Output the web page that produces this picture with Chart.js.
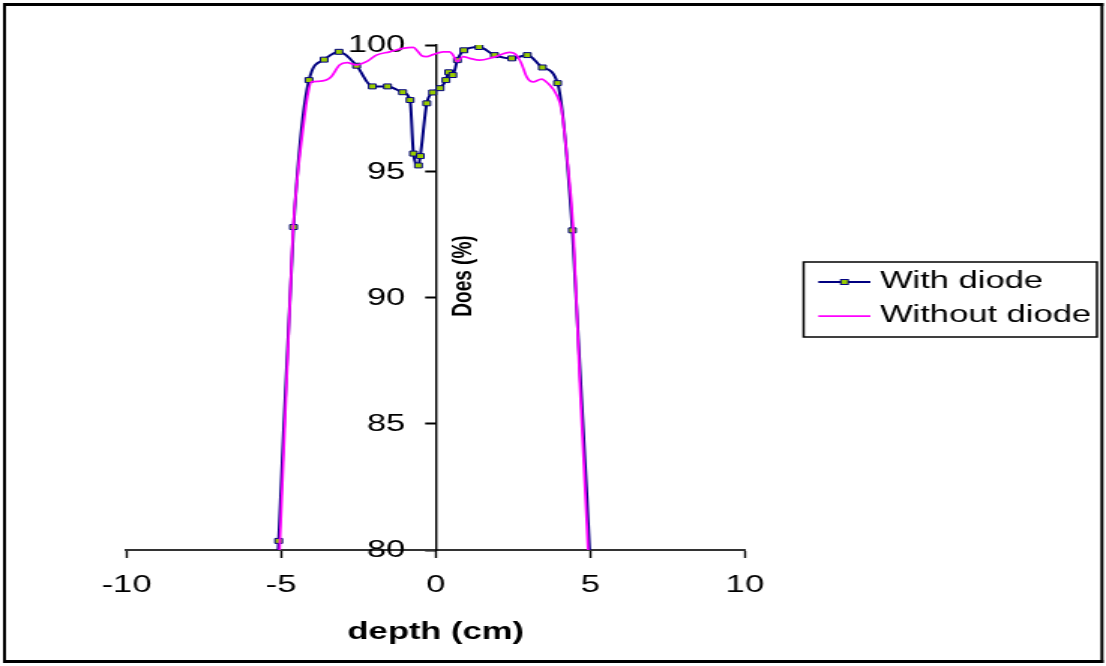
<!DOCTYPE html>
<html>
<head>
<meta charset="utf-8">
<script src="https://cdn.jsdelivr.net/npm/chart.js@4.4.1/dist/chart.umd.min.js"></script>
<style>
  html, body { margin: 0; padding: 0; background: #ffffff; }
</style>
</head>
<body>
<!-- the drawing buffer is narrower than the page and is widened by CSS -->
<canvas id="chart" width="737" height="666" style="display:block;width:1106px;height:666px;"></canvas>
<script>
// Dose profile across the field, measured with and without the diode in place
const depthWithDiode = [-5.15, -5.08, -4.60, -4.10, -3.61, -3.13, -2.56, -2.05, -1.56, -1.07,
  -0.83, -0.72, -0.56, -0.50, -0.29, -0.10, 0.14, 0.33, 0.42, 0.55,
  0.70, 0.91, 1.40, 1.90, 2.46, 2.96, 3.45, 3.94, 4.42, 5.10];
const doseWithDiode = [78.6, 80.36, 92.79, 98.61, 99.42, 99.73, 99.18, 98.36, 98.36, 98.13,
  97.82, 95.70, 95.23, 95.60, 97.69, 98.12, 98.29, 98.61, 98.92, 98.81,
  99.40, 99.79, 99.92, 99.60, 99.47, 99.60, 99.11, 98.49, 92.66, 77.0];

const depthWithoutDiode = [-5.12, -4.78, -4.62, -4.47, -4.29, -4.15, -4.02, -3.80, -3.54, -3.38,
  -3.11, -2.87, -2.57, -2.24, -1.92, -1.49, -1.06, -0.73, -0.57, -0.46,
  -0.30, -0.09, 0.24, 0.45, 0.56, 0.70, 0.88, 1.10, 1.42, 1.85,
  2.39, 2.61, 2.77, 2.94, 3.15, 3.42, 3.63, 3.91, 4.07, 4.23,
  4.45, 4.66, 4.93, 5.05];
const doseWithoutDiode = [78.0, 87.9, 92.6, 94.8, 96.7, 97.95, 98.54, 98.56, 98.61, 98.74,
  99.21, 99.30, 99.21, 99.34, 99.60, 99.73, 99.87, 99.91, 99.73, 99.58,
  99.54, 99.62, 99.73, 99.73, 99.60, 99.34, 99.54, 99.47, 99.40, 99.51,
  99.71, 99.60, 99.27, 98.74, 98.54, 98.65, 98.48, 98.02, 97.42, 95.75,
  92.66, 86.59, 79.96, 78.0];

const xTickValues = [-10, -5, 0, 5, 10];
const yTickValues = [80, 85, 90, 95, 100];
const seriesNames = ['With diode', 'Without diode'];
const xAxisTitle = 'depth (cm)';
const yAxisTitle = 'Does (%)';

const FONT = "'Liberation Sans', Arial, sans-serif";
const TEXT_SIZE = 23;
const NAVY = '#000080';
const MAGENTA = '#ff00ff';
const MARKER_FILL = '#99cc00';

const toPoints = (xs, ys) => xs.map((x, i) => ({ x: x, y: ys[i] }));

// White page, y tick labels, outer frame, rotated y title and boxed legend
const decorations = {
  id: 'decorations',
  beforeDraw(chart) {
    const ctx = chart.ctx;
    ctx.save();
    ctx.fillStyle = '#ffffff';
    ctx.fillRect(0, 0, chart.width, chart.height);
    ctx.restore();
  },
  beforeDatasetsDraw(chart) {
    // y tick labels sit left of the axis that crosses at depth 0
    const ctx = chart.ctx;
    const xs = chart.scales.x;
    const ys = chart.scales.y;
    const axisX = xs.getPixelForValue(0);
    ctx.save();
    ctx.fillStyle = '#000000';
    ctx.font = TEXT_SIZE + 'px ' + FONT;
    ctx.textAlign = 'right';
    ctx.textBaseline = 'middle';
    ys.ticks.forEach(t => {
      ctx.fillText(String(t.value), axisX - 20.3, ys.getPixelForValue(t.value) + 1);
    });
    ctx.restore();
  },
  afterDraw(chart) {
    const ctx = chart.ctx;
    const xs = chart.scales.x;
    ctx.save();

    // outer frame
    ctx.fillStyle = '#000000';
    ctx.fillRect(2, 3, 2, 660);       // left
    ctx.fillRect(733.3, 3, 2, 660);   // right
    ctx.fillRect(2, 3, 733.3, 3);     // top
    ctx.fillRect(2, 660, 733.3, 3);   // bottom

    // y title beside the axis drawn at depth 0
    const axisX = xs.getPixelForValue(0);
    ctx.translate(axisX + 18.2, 276);
    ctx.rotate(-Math.PI / 2);
    ctx.fillStyle = '#000000';
    ctx.font = 'bold 19px ' + FONT;
    ctx.textAlign = 'center';
    ctx.textBaseline = 'middle';
    ctx.fillText(yAxisTitle, 0, 0);
    ctx.setTransform(1, 0, 0, 1, 0, 0);

    // legend box
    const L = 535.5, T = 262, R = 731, B = 337;
    ctx.lineWidth = 1.5;
    ctx.strokeStyle = '#000000';
    ctx.strokeRect(L, T, R - L, B - T);
    const rows = [282, 316];
    chart.data.datasets.forEach((ds, i) => {
      const y = rows[i];
      ctx.strokeStyle = ds.borderColor;
      ctx.lineWidth = ds.borderWidth;
      ctx.beginPath();
      ctx.moveTo(545.3, y);
      ctx.lineTo(580, y);
      ctx.stroke();
      if (ds.pointRadius > 0) {
        ctx.fillStyle = ds.pointBackgroundColor;
        ctx.strokeStyle = ds.pointBorderColor;
        ctx.lineWidth = ds.pointBorderWidth;
        const s = ds.pointRadius * Math.SQRT1_2;
        ctx.fillRect(562.7 - s, y - s, 2 * s, 2 * s);
        ctx.strokeRect(562.7 - s, y - s, 2 * s, 2 * s);
      }
      ctx.fillStyle = '#000000';
      ctx.font = TEXT_SIZE + 'px ' + FONT;
      ctx.textAlign = 'left';
      ctx.textBaseline = 'middle';
      ctx.fillText(ds.label, 586.4, y);
    });
    ctx.restore();
  }
};

new Chart(document.getElementById('chart'), {
  type: 'line',
  data: {
    datasets: [
      {
        label: seriesNames[0],
        data: toPoints(depthWithDiode, doseWithDiode),
        borderColor: NAVY,
        borderWidth: 2,
        cubicInterpolationMode: 'monotone',
        pointStyle: 'rect',
        pointRadius: 3.5,
        pointBorderWidth: 1,
        pointBackgroundColor: MARKER_FILL,
        pointBorderColor: NAVY,
        order: 2
      },
      {
        label: seriesNames[1],
        data: toPoints(depthWithoutDiode, doseWithoutDiode),
        borderColor: MAGENTA,
        borderWidth: 1.75,
        cubicInterpolationMode: 'monotone',
        pointRadius: 0,
        order: 1
      }
    ]
  },
  options: {
    responsive: false,
    animation: false,
    devicePixelRatio: 1,
    events: [],
    layout: { padding: { left: 84.3, right: 240.6, top: 45, bottom: 0 } },
    plugins: { legend: { display: false }, tooltip: { enabled: false } },
    scales: {
      x: {
        type: 'linear',
        position: 'bottom',
        min: -10,
        max: 10,
        afterBuildTicks: s => { s.ticks = xTickValues.map(v => ({ value: v })); },
        afterFit: s => { s.height = 116; },
        grid: { drawOnChartArea: false, drawTicks: true, tickLength: 8, tickWidth: 1.4, tickColor: '#000000' },
        border: { display: true, color: '#333333', width: 2 },
        ticks: { color: '#000000', padding: 14, maxRotation: 0, font: { family: FONT, size: TEXT_SIZE } },
        title: {
          display: true, text: xAxisTitle, color: '#000000',
          font: { family: FONT, size: TEXT_SIZE, weight: 'bold' },
          padding: { top: 4, bottom: 20 }
        }
      },
      y: {
        type: 'linear',
        position: { x: 0 },
        min: 80,
        max: 100,
        afterBuildTicks: s => { s.ticks = yTickValues.map(v => ({ value: v })); },
        grid: { drawOnChartArea: false, drawTicks: true, tickLength: 6.7, tickWidth: 2, tickColor: '#000000' },
        border: { display: true, color: '#000000', width: 1.4 },
        ticks: { display: false }
      }
    }
  },
  plugins: [decorations]
});
</script>
</body>
</html>
